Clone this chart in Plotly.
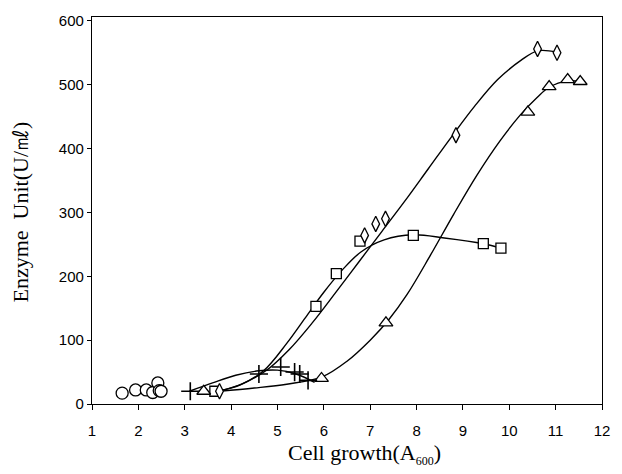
import plotly.graph_objects as go

# --- data ---
circle_x = [1.65, 1.94, 2.17, 2.31, 2.42, 2.45, 2.49]
circle_y = [17, 22, 22, 18, 33, 21, 20]

plus_x = [3.12, 4.6, 5.07, 5.37, 5.48, 5.66]
plus_y = [20, 47, 58, 50, 47, 37]
plus_fit_x = [3.1, 3.6, 4.1, 4.6, 5.0, 5.4, 5.8]
plus_fit_y = [20, 33, 45, 52, 53, 47, 34]

square_x = [3.65, 5.83, 6.27, 6.78, 7.93, 9.44, 9.82]
square_y = [20, 153, 204, 255, 264, 251, 244]
square_fit_x = [3.7, 4.2, 4.7, 5.2, 5.6, 6.0, 6.4, 6.8, 7.3, 7.93, 8.6, 9.44, 9.82]
square_fit_y = [20, 30, 52, 95, 135, 175, 210, 238, 257, 265, 260, 251, 244]

diamond_x = [3.75, 6.88, 7.12, 7.33, 8.85, 10.61, 11.03]
diamond_y = [20, 264, 282, 290, 421, 556, 550]
diamond_fit_x = [3.75, 4.25, 4.75, 5.25, 5.75, 6.25, 6.75, 7.25, 7.75, 8.25, 8.75, 9.25, 9.75, 10.25, 10.61, 11.03]
diamond_fit_y = [20, 32, 52, 85, 127, 174, 222, 270, 318, 368, 418, 466, 508, 538, 553, 551]

triangle_x = [3.41, 5.95, 7.34, 10.40, 10.86, 11.26, 11.53]
triangle_y = [20, 40, 127, 457, 497, 508, 505]
triangle_fit_x = [3.75, 4.5, 5.2, 5.95, 6.5, 7.0, 7.4, 7.8, 8.3, 8.8, 9.3, 9.8, 10.23, 10.6, 10.86, 11.26, 11.53]
triangle_fit_y = [20, 25, 31, 42, 67, 100, 132, 172, 233, 297, 358, 412, 452, 480, 496, 506, 505]

x_ticks = list(range(1, 13))
y_ticks = [0, 100, 200, 300, 400, 500, 600]

x_title = "Cell growth(A<sub><span style='font-size:12px;color:#000000'>600</span></sub>)"
y_title = "Enzyme\u00a0\u00a0Unit(U/㎖)"

BLACK = "#000000"
SERIF = "Liberation Serif, Times New Roman"
fig = go.Figure()

def fit(xs, ys):
    fig.add_trace(go.Scatter(x=xs, y=ys, mode="lines",
                             line=dict(color=BLACK, width=1.4, shape="spline", smoothing=1.0),
                             hoverinfo="skip", showlegend=False))

def pts(xs, ys, symbol, size, width=1.3):
    fig.add_trace(go.Scatter(x=xs, y=ys, mode="markers",
                             marker=dict(symbol=symbol, size=size, color="white",
                                         line=dict(color=BLACK, width=width)),
                             showlegend=False))

fit(plus_fit_x, plus_fit_y)
fit(square_fit_x, square_fit_y)
fit(diamond_fit_x, diamond_fit_y)
fit(triangle_fit_x, triangle_fit_y)

pts(circle_x, circle_y, "circle", 12)
pts(square_x, square_y, "square", 10)
pts(diamond_x, diamond_y, "diamond-tall", 11)
pts(triangle_x, triangle_y, "triangle-up", 12)
fig.add_trace(go.Scatter(x=plus_x, y=plus_y, mode="markers",
                         marker=dict(symbol="cross-thin-open", size=13, color=BLACK,
                                     line=dict(color=BLACK, width=1.6)),
                         showlegend=False))

axis_common = dict(showgrid=False, zeroline=False, showline=True, linecolor=BLACK,
                   linewidth=1.3, mirror=True, ticks="outside",
                   tickwidth=1.2, tickcolor=BLACK,
                   tickfont=dict(family="Liberation Sans, Arial", size=15, color=BLACK))

fig.update_xaxes(range=[1, 12], tickvals=x_ticks, ticktext=[str(v) for v in x_ticks],
                 ticklen=5, ticklabelstandoff=8, **axis_common)
fig.update_yaxes(range=[0, 606], tickvals=y_ticks, ticktext=[str(v) for v in y_ticks],
                 ticklen=4, **axis_common)

fig.add_annotation(text=x_title, xref="paper", yref="paper", x=0.535, y=-0.128,
                   xanchor="center", yanchor="middle", showarrow=False,
                   font=dict(family=SERIF, size=22, color=BLACK))
fig.add_annotation(text=y_title, xref="paper", yref="paper", x=-0.141, y=0.495,
                   xanchor="center", yanchor="middle", showarrow=False, textangle=-90,
                   font=dict(family=SERIF, size=22, color=BLACK))

fig.update_layout(width=622, height=474, margin=dict(l=92, r=20, t=12, b=70),
                  paper_bgcolor="white", plot_bgcolor="white", showlegend=False)

fig.write_html("out.html")
